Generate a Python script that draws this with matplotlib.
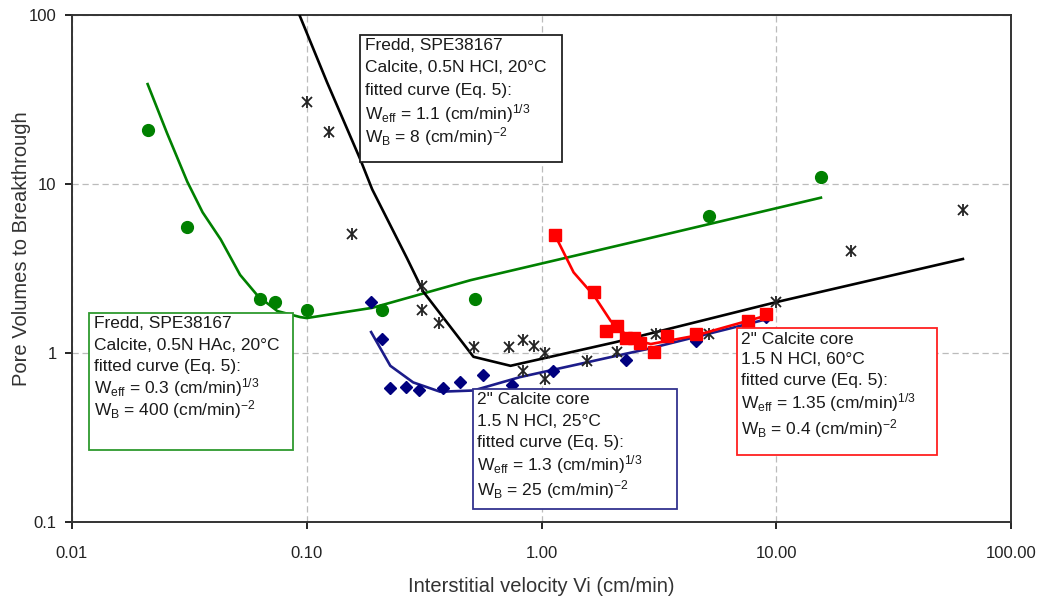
# Pore volumes to breakthrough vs interstitial velocity (log-log)
import matplotlib
matplotlib.use("Agg")
import matplotlib.pyplot as plt
from matplotlib.patches import Rectangle
from matplotlib.ticker import FixedLocator, FuncFormatter, NullLocator

plt.rcParams['font.family'] = ['Liberation Sans', 'DejaVu Sans']
plt.rcParams['mathtext.default'] = 'regular'

# Fredd, HAc, 20 C (green)
hac_x = [0.021, 0.031, 0.063, 0.073, 0.10, 0.21, 0.52, 5.15, 15.5]
hac_y = [21, 5.6, 2.1, 2.0, 1.8, 1.8, 2.1, 6.5, 11.0]
hac_fit_x = [0.021, 0.0254, 0.031, 0.036, 0.043, 0.052, 0.062, 0.075, 0.094, 0.10, 0.19, 0.5, 2.4, 15.5]
hac_fit_y = [39, 20, 10.3, 6.8, 4.7, 2.9, 2.17, 1.77, 1.63, 1.61, 1.85, 2.7, 4.5, 8.3]

# Fredd, HCl, 20 C (black)
hcl20_x = [0.10, 0.125, 0.156, 0.311, 0.311, 0.367, 0.518, 0.73, 0.83, 0.93,
           1.04, 0.83, 1.04, 1.57, 2.09, 3.06, 5.15, 10.0, 20.8, 62.4]
hcl20_y = [30.5, 20.3, 5.06, 2.49, 1.80, 1.50, 1.08, 1.08, 1.19, 1.10,
           1.0, 0.78, 0.70, 0.90, 1.01, 1.30, 1.30, 2.0, 4.02, 7.0]
hcl20_fit_x = [0.091, 0.122, 0.169, 0.19, 0.267, 0.314, 0.513, 0.738, 2.07, 10.0, 62.4]
hcl20_fit_y = [108, 40, 14.0, 9.3, 3.65, 2.30, 0.95, 0.84, 1.16, 2.0, 3.6]

# 2" core, HCl, 25 C (blue)
core25_x = [0.188, 0.21, 0.227, 0.265, 0.30, 0.379, 0.45, 0.566, 0.75, 1.12, 2.28, 4.54, 9.0]
core25_y = [2.0, 1.21, 0.62, 0.63, 0.60, 0.62, 0.67, 0.74, 0.65, 0.78, 0.91, 1.18, 1.63]
core25_fit_x = [0.188, 0.227, 0.284, 0.37, 0.513, 0.81, 2.86, 9.2]
core25_fit_y = [1.33, 0.84, 0.67, 0.59, 0.60, 0.72, 1.06, 1.59]

# 2" core, HCl, 60 C (red)
core60_x = [1.14, 1.68, 1.89, 2.09, 2.28, 2.47, 2.64, 3.0, 3.41, 4.54, 7.55, 9.0]
core60_y = [5.0, 2.30, 1.35, 1.44, 1.23, 1.23, 1.15, 1.01, 1.26, 1.30, 1.55, 1.70]
core60_fit_x = [1.14, 1.37, 1.68, 1.97, 2.40, 2.92, 4.45, 9.0]
core60_fit_y = [5.0, 3.0, 2.17, 1.55, 1.21, 1.13, 1.26, 1.66]

x_ticks = [0.01, 0.1, 1, 10, 100]
y_ticks = [0.1, 1, 10, 100]

W, H = 1046, 602
fig = plt.figure(figsize=(W / 100, H / 100), dpi=100)
ax = fig.add_axes([72 / W, 1 - 522 / H, (1011 - 72) / W, (522 - 15) / H])

GREEN = '#008000'
BLUE = '#00007f'
BLUE_LINE = '#1c1c8a'
RED = '#ff0000'

ax.plot(hac_fit_x, hac_fit_y, '-', color=GREEN, lw=1.9, zorder=3)
ax.plot(hac_x, hac_y, 'o', color=GREEN, ms=8.5, zorder=4)

ax.plot(hcl20_fit_x, hcl20_fit_y, '-', color='black', lw=1.9, zorder=3)
ax.plot(hcl20_x, hcl20_y, 'x', color='#222222', ms=7, mew=1.3, zorder=4)
ax.plot(hcl20_x, hcl20_y, '|', color='#222222', ms=8, mew=1.3, zorder=4)

ax.plot(core25_fit_x, core25_fit_y, '-', color=BLUE_LINE, lw=1.9, zorder=3)
ax.plot(core25_x, core25_y, 'D', color=BLUE, ms=5.8, zorder=4)

ax.plot(core60_fit_x, core60_fit_y, '-', color=RED, lw=1.9, zorder=5)
ax.plot(core60_x, core60_y, 's', color=RED, ms=8.5, zorder=6)

ax.set_xscale('log')
ax.set_yscale('log')
ax.set_xlim(0.01, 100)
ax.set_ylim(0.1, 100)
ax.xaxis.set_major_locator(FixedLocator(x_ticks))
ax.yaxis.set_major_locator(FixedLocator(y_ticks))
ax.xaxis.set_minor_locator(NullLocator())
ax.yaxis.set_minor_locator(NullLocator())
ax.xaxis.set_major_formatter(FuncFormatter(lambda v, p: '0.01' if v < 0.05 else '%.2f' % v))
ax.yaxis.set_major_formatter(FuncFormatter(lambda v, p: '%g' % v))
ax.tick_params(axis='both', direction='out', length=5, width=1.2, labelsize=12,
               labelcolor='#222222', pad=6)
ax.tick_params(axis='x', pad=12)
for sp in ax.spines.values():
    sp.set_linewidth(1.4)
    sp.set_color('#333333')
ax.grid(True, which='major', color='#bbbbbb', lw=0.9, linestyle=(0, (5, 3)))
ax.set_axisbelow(True)

ax.set_xlabel('Interstitial velocity Vi (cm/min)', fontsize=14.5, color='#333333', labelpad=12)
fig.text(22 / W, 1 - 249 / H, 'Pore Volumes to Breakthrough', fontsize=14.5, color='#333333',
         rotation=90, ha='center', va='center')


def note(box, lines, line_y, edge, text_x):
    x0, y0, x1, y1 = box
    fig.add_artist(Rectangle((x0 / W, 1 - y1 / H), (x1 - x0) / W, (y1 - y0) / H,
                             transform=fig.transFigure, facecolor='white',
                             edgecolor=edge, lw=1.3, zorder=5))
    for txt, yy in zip(lines, line_y):
        fig.text(text_x / W, 1 - yy / H, txt, fontsize=12.5, color='#1a1a1a',
                 ha='left', va='center', zorder=6)


note((360, 35, 562, 162),
     ['Fredd, SPE38167', 'Calcite, 0.5N HCl, 20°C', 'fitted curve (Eq. 5):',
      'W$_{eff}$ = 1.1 (cm/min)$^{1/3}$', 'W$_{B}$ = 8 (cm/min)$^{-2}$'],
     [46, 68, 91, 114, 137], '#222222', 365)
note((89, 313, 293, 450),
     ['Fredd, SPE38167', 'Calcite, 0.5N HAc, 20°C', 'fitted curve (Eq. 5):',
      'W$_{eff}$ = 0.3 (cm/min)$^{1/3}$', 'W$_{B}$ = 400 (cm/min)$^{-2}$'],
     [324, 345, 366, 388, 410], '#2e9a2e', 94)
note((473, 389, 677, 509),
     ['2" Calcite core', '1.5 N HCl, 25°C', 'fitted curve (Eq. 5):',
      'W$_{eff}$ = 1.3 (cm/min)$^{1/3}$', 'W$_{B}$ = 25 (cm/min)$^{-2}$'],
     [400, 421, 442, 465, 490], '#33338f', 477)
note((737, 328, 937, 455),
     ['2" Calcite core', '1.5 N HCl, 60°C', 'fitted curve (Eq. 5):',
      'W$_{eff}$ = 1.35 (cm/min)$^{1/3}$', 'W$_{B}$ = 0.4 (cm/min)$^{-2}$'],
     [339, 359, 380, 403, 429], '#ff2020', 741)

fig.savefig('out.png', dpi=100, facecolor='white')
